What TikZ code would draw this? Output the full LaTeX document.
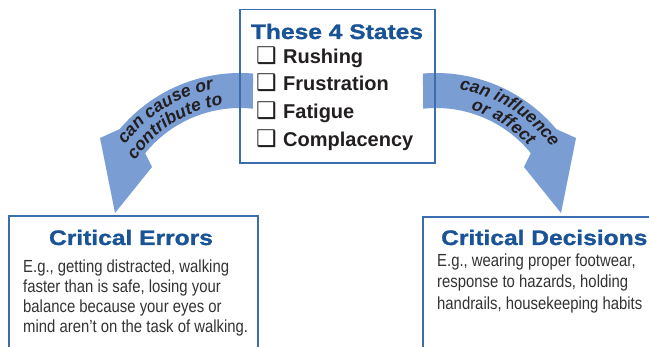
\documentclass[tikz,border=0pt]{standalone}
\usepackage{fontspec}
\setmainfont{Liberation Sans}
\newfontfamily\titlefont[FakeStretch=1.17,FakeBold=1.2]{Liberation Sans}
\newfontfamily\bodyfont[FakeStretch=0.85]{Liberation Sans}
\newfontfamily\symfont{DejaVu Sans}
\usetikzlibrary{decorations.text}
\definecolor{arrowblue}{RGB}{122,158,212}
\definecolor{boxblue}{RGB}{60,110,175}
\definecolor{titleblue}{RGB}{26,84,150}
\definecolor{darktext}{RGB}{35,31,32}
\definecolor{bodytext}{RGB}{51,51,51}
\newcommand{\arrowfont}{\bfseries\itshape\fontsize{17.5}{20}\selectfont}
\tikzset{
 frame/.style={draw=boxblue, line width=1.3pt},
 maintitle/.style={font=\titlefont\bfseries\fontsize{21}{24}\selectfont, text=titleblue, inner sep=0pt},
 item/.style={font=\bfseries\fontsize{20}{24}\selectfont, text=darktext, inner sep=0pt, anchor=base west},
 chk/.style={font=\symfont\fontsize{23}{24}\selectfont, text=darktext, inner sep=0pt, anchor=base west},
 body/.style={font=\bodyfont\fontsize{17.5}{20}\selectfont, text=bodytext, inner sep=0pt, anchor=base west},
 arrowshape/.style={fill=arrowblue},
 arclabel/.style={decorate, decoration={text along path, text align=center, text color=darktext}},
}
\begin{document}
\begin{tikzpicture}[x=1pt,y=1pt]
\fill[white] (0,0) rectangle (649,347);
\useasboundingbox (0,0) rectangle (649,347);
% curved arrows
\fill[arrowshape] ([shift={(240,117)}]85.2:157) arc[start angle=85.2, end angle=140, radius=157]
  -- (100,209) -- (115,134) -- (152,180)
  -- ([shift={(240,117)}]141:122) arc[start angle=141, end angle=84, radius=122] -- cycle;
\fill[arrowshape] ([shift={(436,117)}]94.8:157) arc[start angle=94.8, end angle=40, radius=157]
  -- (576,209) -- (561,134) -- (524,180)
  -- ([shift={(436,117)}]39:122) arc[start angle=39, end angle=96, radius=122] -- cycle;
% arrow labels
\path[arclabel, decoration={text={|\arrowfont|can cause or}}]
  ([shift={(240,117)}]160:143) arc[start angle=160, end angle=84, radius=143];
\path[arclabel, decoration={text={|\arrowfont|contribute to}}]
  ([shift={(240,117)}]160:126) arc[start angle=160, end angle=84, radius=126];
\path[arclabel, decoration={text={|\arrowfont|can influence}}]
  ([shift={(436,117)}]96:142) arc[start angle=96, end angle=20, radius=142];
\path[arclabel, decoration={text={|\arrowfont|or affect}}]
  ([shift={(436,117)}]96:125) arc[start angle=96, end angle=20, radius=125];
% top box
\draw[frame] (240,184) rectangle (435,337.5);
\node[maintitle, anchor=base] (states) at (337,308) {These 4 States};
\node[chk] (c1) at (256,283) {❑};
\node[item] (i1) at (283,283) {Rushing};
\node[chk] (c2) at (256,256) {❑};
\node[item] (i2) at (283,256) {Frustration};
\node[chk] (c3) at (256,228) {❑};
\node[item] (i3) at (283,228) {Fatigue};
\node[chk] (c4) at (256,200) {❑};
\node[item] (i4) at (283,200) {Complacency};
% left box
\draw[frame] (9,-5) -- (9,131) -- (258,131) -- (258,-5);
\node[maintitle, anchor=base] (errors) at (131,102) {Critical Errors};
\node[body] (e1) at (23,74) {E.g., getting distracted, walking};
\node[body] (e2) at (23,54) {faster than is safe, losing your};
\node[body] (e3) at (23,34) {balance because your eyes or};
\node[body] (e4) at (23,14) {mind aren’t on the task of walking.};
% right box
\draw[frame] (423,-5) -- (423,130) -- (655,130);
\node[maintitle, anchor=base west] (decisions) at (441,102) {Critical Decisions};
\node[body] (d1) at (437,80) {E.g., wearing proper footwear,};
\node[body] (d2) at (437,59) {response to hazards, holding};
\node[body] (d3) at (437,37) {handrails, housekeeping habits};
\end{tikzpicture}
\end{document}
